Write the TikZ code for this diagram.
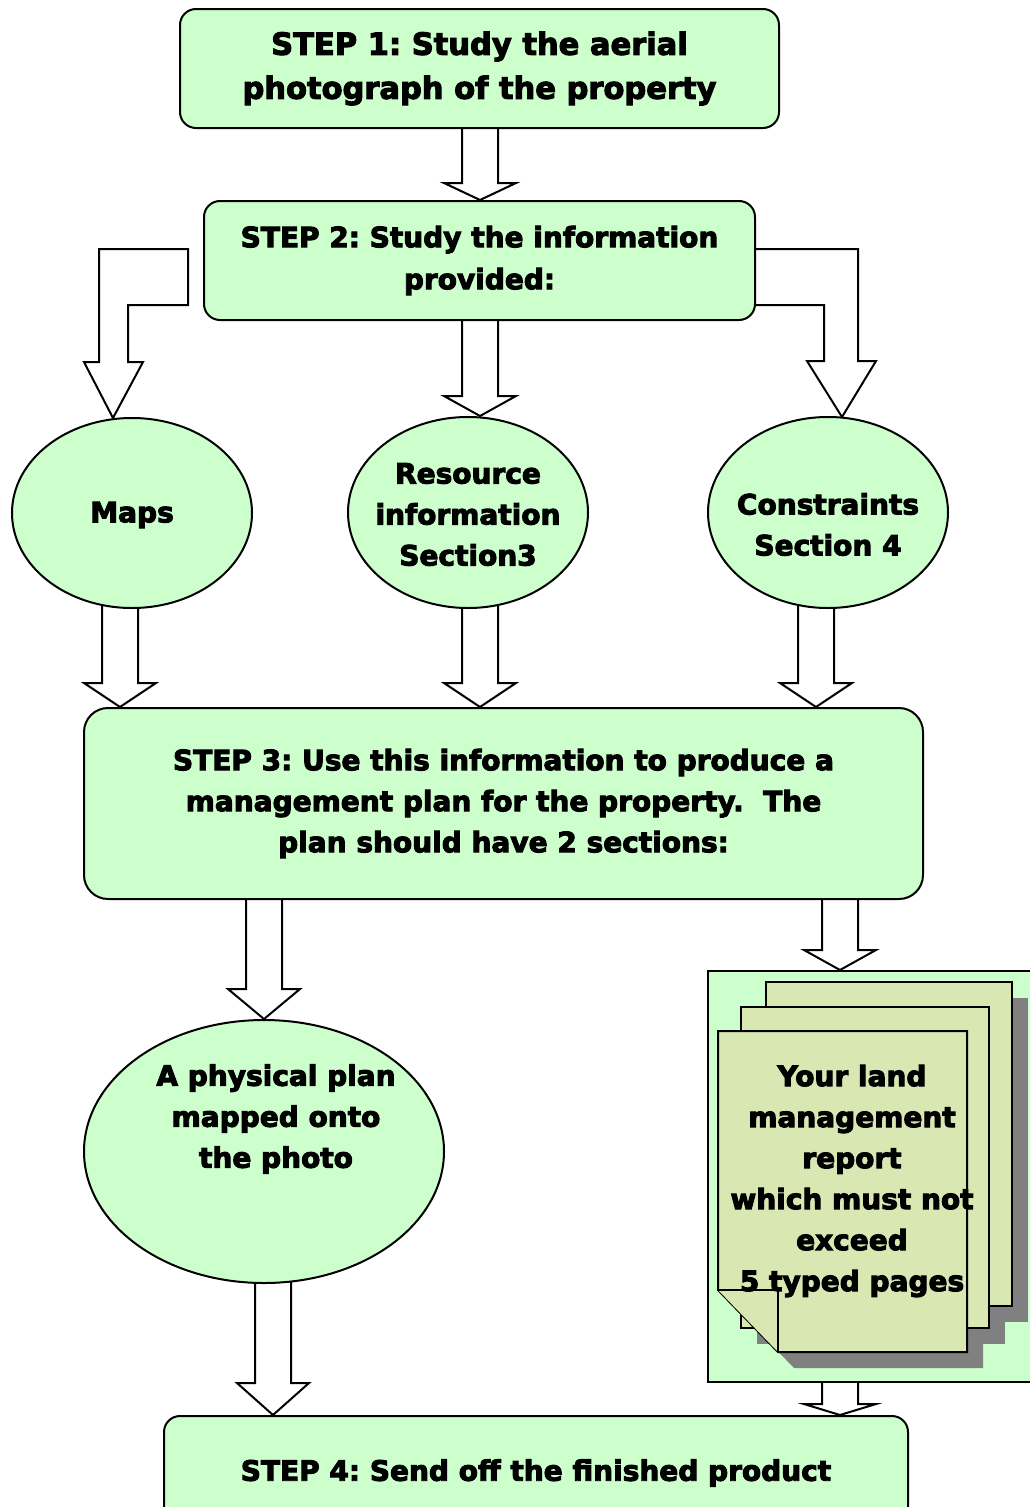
\documentclass[tikz,border=0pt]{standalone}
\usepackage{fontspec}
\setmainfont{DejaVu Sans}[BoldFeatures={FakeBold=3.5}]
\usepackage{xcolor}
\definecolor{boxgreen}{HTML}{CCFFCC}
\definecolor{pagegreen}{HTML}{D9E8B3}
\definecolor{shadowgrey}{HTML}{808080}
\usetikzlibrary{positioning,shapes.geometric,calc,backgrounds}
\tikzset{
  stepbox/.style={rectangle, rounded corners=16pt, draw=black, line width=2pt,
                  fill=boxgreen, align=center, inner sep=0pt,
                  font=\bfseries\fontsize{28}{41}\selectfont},
  oval/.style   ={ellipse, draw=black, line width=2pt, fill=boxgreen, inner sep=0pt},
  txt/.style    ={align=center, inner sep=0pt, font=\bfseries\fontsize{28}{41}\selectfont},
  blk/.style    ={draw=black, fill=white, line width=2pt, line join=miter},
  page/.style   ={draw=black, fill=pagegreen, line width=2pt},
  pshadow/.style={fill=shadowgrey},
}
\frenchspacing
% block arrow: x, source node, target node, head length
\newcommand{\blkarrow}[4]{%
  \draw[blk] let \p1=(#2.center), \p2=(#3.north) in
    ({#1pt-18pt},\y1) -- ({#1pt-18pt},{\y2+#4pt}) -- ({#1pt-36pt},{\y2+#4pt})
    -- ({#1pt},\y2) -- ({#1pt+36pt},{\y2+#4pt}) -- ({#1pt+18pt},{\y2+#4pt})
    -- ({#1pt+18pt},\y1);}

\begin{document}
\begin{tikzpicture}[x=1pt,y=-1pt]
  \useasboundingbox (0,0) rectangle (1029,1507);

  % steps and sources
  \node[stepbox, minimum width=599pt, minimum height=119pt,
        font=\bfseries\fontsize{30.5}{44}\selectfont] (s1) at (479.5,68.5)
        {STEP 1: Study the aerial\\photograph of the property};
  \node[stepbox, minimum width=551pt, minimum height=119pt,
        font=\bfseries\fontsize{28}{42}\selectfont] (s2) at (479.5,260.5)
        {STEP 2: Study the information\\provided:};
  \node[oval, minimum width=240pt, minimum height=190pt] (maps) at (132,513) {};
  \node[oval, minimum width=240pt, minimum height=191pt] (res) at (468,512.5) {};
  \node[oval, minimum width=240pt, minimum height=191pt] (con) at (828,512.5) {};
  \node[txt] at ($(maps)+(0,2)$) {Maps};
  \node[txt] at ($(res)+(0,2)$) {Resource\\information\\Section3};
  \node[txt] at ($(con)+(0,12)$) {Constraints\\Section 4};

  \node[stepbox, rounded corners=24pt, minimum width=839pt, minimum height=191pt] (s3)
        at (503.5,803.5)
        {STEP 3: Use this information to produce a\\management plan for the property.~ The\\plan should have 2 sections:};

  \node[oval, minimum width=360pt, minimum height=263pt] (plan) at (264,1151.5) {};
  \node[txt] at (276,1119) {A physical plan\\mapped onto\\the photo};

  % report stack
  \node[rectangle, draw=black, line width=2pt, fill=boxgreen, anchor=north west,
        minimum width=340pt, minimum height=411pt] (rep) at (707,970) {};
  \fill[pshadow] (782,998) rectangle (1028,1322);
  \fill[pshadow] (757,1023) rectangle (1005,1344);
  \fill[pshadow] (734,1047) -- (734,1306) -- (794,1368) -- (983,1368) -- (983,1047) -- cycle;
  \draw[page] (766,982) rectangle (1012,1306);
  \draw[page] (741,1007) rectangle (989,1328);
  \draw[page] (718,1031) -- (718,1290) -- (778,1352) -- (967,1352) -- (967,1031) -- cycle;
  \draw[page] (718,1290) -- (778,1290) -- (778,1352);
  \node[txt] at (852,1181)
        {Your land\\management\\report\\which must not\\exceed\\5 typed pages};

  \node[stepbox, minimum width=744pt, minimum height=114pt] (s4) at (536,1473)
        {STEP 4: Send off the finished product};

  % block arrows
  \begin{scope}[on background layer]
    \blkarrow{480}{s1}{s2}{17}
    \blkarrow{480}{s2}{res}{20}
    \draw[blk] (188,249) -- (99,249) -- (99,362) -- (84,362) -- (113,418)
      -- (143,362) -- (128,362) -- (128,305) -- (188,305) -- cycle;
    \draw[blk] (740,249) -- (858,249) -- (858,361) -- (876,361) -- (842,417)
      -- (807,361) -- (824,361) -- (824,305) -- (740,305);
    \blkarrow{120}{maps}{s3}{24}
    \blkarrow{480}{res}{s3}{24}
    \blkarrow{816}{con}{s3}{24}
    \blkarrow{264}{s3}{plan}{30}
    \blkarrow{840}{s3}{rep}{20}
    \blkarrow{273}{plan}{s4}{32}
    \blkarrow{840}{rep}{s4}{11}
  \end{scope}
\end{tikzpicture}
\end{document}
